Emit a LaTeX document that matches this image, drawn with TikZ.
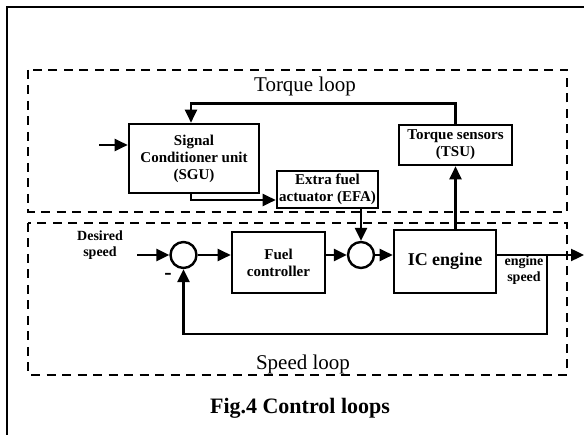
\documentclass[tikz,border=0pt]{standalone}
\usepackage{fontspec}
\setmainfont{Liberation Serif}
\usetikzlibrary{arrows.meta}

\begin{document}
\begin{tikzpicture}[x=1pt, y=-1pt,
  blk/.style={draw, line width=2.6pt, inner sep=0pt, align=center, font=\fontsize{15}{17}\selectfont\bfseries},
  sumpt/.style={draw, circle, line width=2.4pt, minimum size=26pt, inner sep=0pt},
  sig/.style={line width=2.4pt, -{Triangle[length=13pt,width=12pt]}},
  loopbox/.style={line width=2.2pt, dash pattern=on 9pt off 6.5pt},
  txt/.style={align=center, font=\fontsize{14}{16}\selectfont\bfseries},
  looptitle/.style={font=\fontsize{21}{24}\selectfont}]
\useasboundingbox (0,0) rectangle (584,435);
\draw[line width=2.2pt] (7,440) -- (7,7) -- (590,7);
\draw[loopbox] (28,70) rectangle (567,212);
\draw[loopbox] (28,223) rectangle (567,375);
% torque loop
\node[blk, minimum width=130pt, minimum height=69pt] (sgu) at (194,158.5) {Signal\\Conditioner unit\\(SGU)};
\node[blk, minimum width=101pt, minimum height=37pt] (efa) at (327.5,189.5) {Extra fuel\\actuator (EFA)};
\node[blk, minimum width=113pt, minimum height=40pt] (tsu) at (455.5,145) {Torque sensors\\(TSU)};
\node[looptitle] (tql) at (305,86) {Torque loop};
\coordinate (tin) at (99,145);
\draw[sig] (tin) -- (tin -| sgu.west);
\draw[sig] (tsu.north) -- ++(0,-20) -| ([xshift=-3pt]sgu.north);
\draw[sig] ([xshift=-3pt]sgu.south) |- ([yshift=-10.5pt]efa.west);
% speed loop
\node[sumpt] (sum1) at (183.5,255) {};
\node[blk, minimum width=93pt, minimum height=61pt] (fuel) at (278.5,262.5) {Fuel\\controller};
\node[sumpt] (sum2) at (361,255) {};
\node[blk, minimum width=102pt, minimum height=63pt, font=\fontsize{18}{20}\selectfont\bfseries] (ice) at (445,261.5) {IC engine};
\node[txt] (dsp) at (100,245) {Desired\\speed};
\node[txt] (esp) at (524,270) {engine\\speed};
\node[font=\fontsize{22}{22}\selectfont\bfseries] (neg) at (168,276) {-};
\node[looptitle] (spl) at (303,364) {Speed loop};
\coordinate (dsin) at (137,255);
\coordinate (br) at (547,255);
\coordinate (fbk) at (547,334);
\coordinate (yout) at (584,255);
\draw[sig] (dsin) -- (sum1.west);
\draw[sig] (sum1.east) -- (sum1 -| fuel.west);
\draw[sig] (sum1 -| fuel.east) -- (sum2.west);
\draw[sig] (sum2.east) -- (sum2 -| ice.west);
\draw[sig] (efa.south -| sum2) -- (sum2.north);
\draw[sig] (tsu.south |- ice.north) -- (tsu.south);
\draw[sig] (sum2 -| ice.east) -- (yout);
\draw[sig] (br) -- (fbk) -| (sum1.south);
\node[font=\fontsize{22}{24}\selectfont\bfseries] (cap) at (300,408) {Fig.4 Control loops};
\end{tikzpicture}
\end{document}
